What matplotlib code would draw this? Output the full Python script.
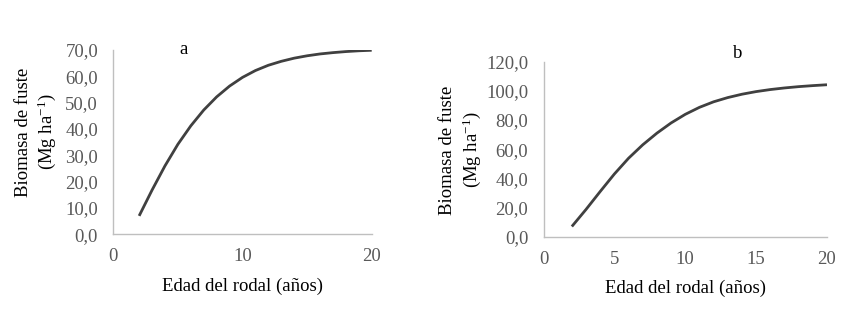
import matplotlib
matplotlib.use("Agg")
import matplotlib.pyplot as plt

plt.rcParams['font.family'] = ['Liberation Serif', 'DejaVu Serif']
plt.rcParams['mathtext.fontset'] = 'custom'
plt.rcParams['mathtext.rm'] = 'Liberation Serif'
plt.rcParams['mathtext.it'] = 'Liberation Serif:italic'

# Data
edad = [2, 3, 4, 5, 6, 7, 8, 9, 10, 11, 12, 13, 14, 15, 16, 17, 18, 19, 20]
biomasa_a = [7.0, 16.8, 26.0, 34.2, 41.2, 47.2, 52.2, 56.3, 59.6, 62.2, 64.2,
             65.7, 66.9, 67.8, 68.5, 69.0, 69.4, 69.7, 69.9]
biomasa_b = [7.0, 18.7, 31.0, 43.0, 53.8, 63.0, 71.0, 78.0, 83.9, 88.7, 92.5,
             95.4, 97.7, 99.5, 100.9, 102.0, 102.9, 103.6, 104.2]

xticks_a = [0, 10, 20]
xticks_b = [0, 5, 10, 15, 20]
yticks_a = [0, 10, 20, 30, 40, 50, 60, 70]
yticks_b = [0, 20, 40, 60, 80, 100, 120]

W, H = 859, 321
fig = plt.figure(figsize=(W / 100, H / 100), dpi=100)

def fx(px):
    return px / W

def fy(py):
    return 1 - py / H

line_color = '#404040'
tick_color = '#595959'
spine_color = '#BFBFBF'
fs = 13.5

def style(ax, xt, yt):
    for s in ['top', 'right']:
        ax.spines[s].set_visible(False)
    for s in ['left', 'bottom']:
        ax.spines[s].set_color(spine_color)
        ax.spines[s].set_linewidth(1.0)
    ax.set_xticks(xt)
    ax.set_yticks(yt)
    ax.set_yticklabels([f"{v:.1f}".replace('.', ',') for v in yt])
    ax.set_xticklabels([str(v) for v in xt])
    ax.tick_params(axis='both', length=0, colors=tick_color, labelsize=fs)
    ax.tick_params(axis='y', pad=11)
    ax.tick_params(axis='x', pad=10)
    ax.set_xlim(xt[0], xt[-1])
    ax.set_ylim(yt[0], yt[-1])

ylab = 'Biomasa de fuste\n(Mg ha$^{\\mathregular{-1}}$)'

# Panel a
ax1 = fig.add_axes([fx(113.3), fy(234.3), fx(371.7 - 113.3), (234.3 - 50) / H])
ax1.plot(edad, biomasa_a, color=line_color, lw=2.0, solid_capstyle='butt')
style(ax1, xticks_a, yticks_a)
ax1.set_xlabel('Edad del rodal (años)', fontsize=fs, labelpad=9)
fig.text(fx(36.5), fy(132), ylab, rotation=90,
         ha='center', va='center', fontsize=fs, linespacing=1.25, multialignment='center')
fig.text(fx(184), fy(49), 'a', ha='center', va='center', fontsize=fs)

# Panel b
ax2 = fig.add_axes([fx(543.5), fy(236.7), fx(827 - 543.5), (236.7 - 61.7) / H])
ax2.plot(edad, biomasa_b, color=line_color, lw=2.0, solid_capstyle='butt')
style(ax2, xticks_b, yticks_b)
ax2.set_xlabel('Edad del rodal (años)', fontsize=fs, labelpad=9)
fig.text(fx(461), fy(150), ylab, rotation=90,
         ha='center', va='center', fontsize=fs, linespacing=1.3, multialignment='center')
fig.text(fx(738), fy(53), 'b', ha='center', va='center', fontsize=fs)

fig.savefig('out.png', dpi=100)
